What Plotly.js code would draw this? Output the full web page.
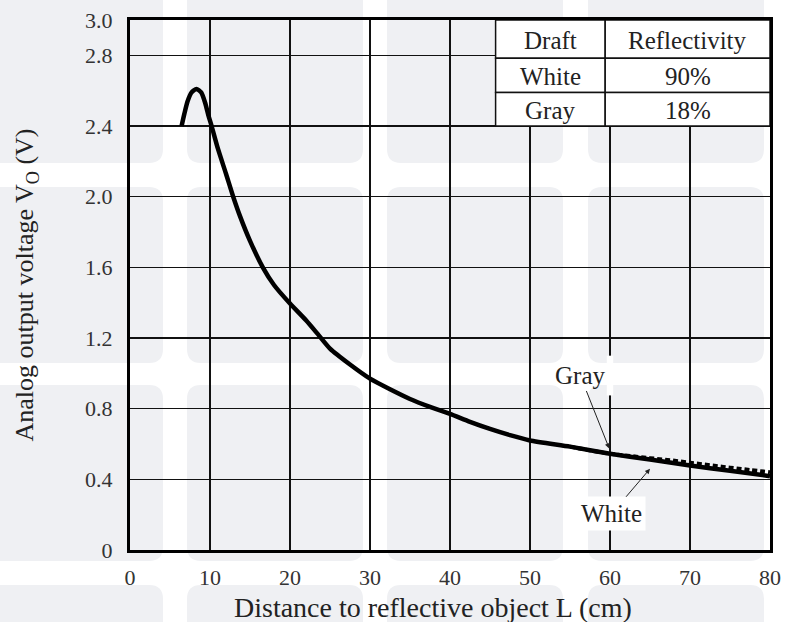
<!DOCTYPE html>
<html>
<head>
<meta charset="utf-8">
<script src="https://cdn.plot.ly/plotly-3.0.1.min.js"></script>
<style>html,body{margin:0;padding:0;background:#fff;}#chart{width:785px;height:622px;}</style>
</head>
<body>
<div id="chart"></div>
<script>
// ---- data ----
const grayX = [6.45, 6.8, 7.2, 7.7, 8.3, 8.9, 9.4, 9.8, 10.2, 11.0, 12.0, 12.9, 13.75, 15.0, 16.6, 18.0, 20.0, 22.0, 23.6, 25.0, 27.5, 30.0, 32.5, 35.0, 37.5, 40.0, 42.5, 45.0, 47.5, 50.0, 55.0, 60.0, 65.0, 70.0, 75.0, 80.0];
const grayV = [2.40, 2.47, 2.54, 2.59, 2.61, 2.59, 2.53, 2.46, 2.40, 2.27, 2.13, 2.00, 1.89, 1.75, 1.60, 1.50, 1.395, 1.30, 1.215, 1.14, 1.05, 0.97, 0.91, 0.855, 0.81, 0.77, 0.725, 0.685, 0.65, 0.62, 0.585, 0.545, 0.512, 0.478, 0.448, 0.418];
const whiteX = [55.0, 60.0, 62.5, 65.0, 67.5, 70.0, 72.5, 75.0, 77.5, 80.0];
const whiteV = [0.585, 0.545, 0.532, 0.520, 0.508, 0.494, 0.480, 0.466, 0.453, 0.440];

const xTicks = [0, 10, 20, 30, 40, 50, 60, 70, 80];
const yTicks = [0, 0.4, 0.8, 1.2, 1.6, 2.0, 2.4, 2.8, 3.0];
const yTickText = ["0", "0.4", "0.8", "1.2", "1.6", "2.0", "2.4", "2.8", "3.0"];

const tableHeader = ["Draft", "Reflectivity"];
const tableDraft = ["White", "Gray"];
const tableReflectivity = ["90%", "18%"];

const xTitle = "Distance to reflective object L (cm)";
const yTitle = "Analog output voltage V<sub>O</sub> (V)";
const serif = "'Liberation Serif', 'Times New Roman', 'DejaVu Serif', serif";

// ---- layout helpers (positions, not data) ----
const W = 785, H = 622, L = 130, R = 15, T = 20, B = 72;
const pw = W - L - R, ph = H - T - B;
const shapes = [];

// watermark-like background tiles (paper coordinates)
const tileCols = [-13, 187, 387, 588];
const tileRows = [-13, 187, 385, 585];
const tileSize = 176, rad = 14;
function px2paperX(p) { return (p - L) / pw; }
function px2paperY(p) { return (H - B - p) / ph; }
tileCols.forEach(cx => tileRows.forEach(cy => {
  const x0 = cx, y0 = cy, x1 = cx + tileSize, y1 = cy + tileSize;
  const pts = [
    ['M', x0 + rad, y0], ['L', x1 - rad, y0], ['Q', x1, y0, x1, y0 + rad],
    ['L', x1, y1 - rad], ['Q', x1, y1, x1 - rad, y1], ['L', x0 + rad, y1],
    ['Q', x0, y1, x0, y1 - rad], ['L', x0, y0 + rad], ['Q', x0, y0, x0 + rad, y0]
  ];
  let d = '';
  pts.forEach(p => {
    d += p[0];
    for (let i = 1; i < p.length; i += 2) {
      d += ' ' + px2paperX(p[i]).toFixed(5) + ',' + px2paperY(p[i + 1]).toFixed(5) + ' ';
    }
  });
  d += 'Z';
  shapes.push({type: 'path', xref: 'paper', yref: 'paper', path: d, fillcolor: '#eff0f3', line: {width: 0}, layer: 'below'});
}));

// table (legend box) in the upper right
const tX = [45.7, 59.4, 80];
const tY = [3.0, 2.783, 2.59, 2.4];
for (let c = 0; c < 2; c++) {
  for (let r = 0; r < 3; r++) {
    shapes.push({type: 'rect', xref: 'x', yref: 'y', x0: tX[c], x1: tX[c + 1], y0: tY[r + 1], y1: tY[r],
      fillcolor: '#ffffff', line: {color: '#111', width: 1.5}, layer: 'above'});
  }
}
// gap in the 60 cm grid line behind the "Gray" label
shapes.push({type: 'rect', xref: 'x', yref: 'y', x0: 59.6, x1: 60.4, y0: 0.875, y1: 1.10,
  fillcolor: '#ffffff', line: {width: 0}, layer: 'above'});

const annotations = [];
const cellText = [[tableHeader[0], tableHeader[1]], [tableDraft[0], tableReflectivity[0]], [tableDraft[1], tableReflectivity[1]]];
cellText.forEach((row, r) => row.forEach((txt, c) => {
  annotations.push({xref: 'x', yref: 'y', x: (tX[c] + tX[c + 1]) / 2, y: (tY[r] + tY[r + 1]) / 2,
    text: txt, showarrow: false, font: {family: serif, size: 25, color: '#222'}, yshift: -1});
}));

// curve labels with arrows (text sits at the arrow tail)
annotations.push({xref: 'x', yref: 'y', x: 59.9, y: 0.575, ax: 56.3, ay: 0.985, axref: 'x', ayref: 'y',
  showarrow: true, arrowhead: 2, arrowsize: 1, arrowwidth: 1, arrowcolor: '#222', standoff: 0,
  text: 'Gray', font: {family: serif, size: 25, color: '#222'}});
annotations.push({xref: 'x', yref: 'y', x: 65.0, y: 0.46, ax: 60.2, ay: 0.205, axref: 'x', ayref: 'y',
  showarrow: true, arrowhead: 2, arrowsize: 1, arrowwidth: 1, arrowcolor: '#222', standoff: 0,
  text: 'White', bgcolor: '#ffffff', borderpad: 3, font: {family: serif, size: 25, color: '#222'}});

// x axis title (placed slightly left of centre, as in the reference)
annotations.push({xref: 'paper', yref: 'paper', x: px2paperX(433), y: px2paperY(607), xanchor: 'center', yanchor: 'middle',
  text: xTitle, showarrow: false, font: {family: serif, size: 28, color: '#222'}});

const traces = [
  {x: whiteX, y: whiteV, mode: 'lines', name: 'White', line: {color: '#000', width: 4, dash: '5px,3px', shape: 'spline'}, hoverinfo: 'skip'},
  {x: grayX, y: grayV, mode: 'lines', name: 'Gray', line: {color: '#000', width: 4.5, shape: 'spline', smoothing: 0.6}, hoverinfo: 'skip'}
];

const layout = {
  width: W, height: H,
  margin: {l: L, r: R, t: T, b: B},
  paper_bgcolor: '#ffffff',
  plot_bgcolor: 'rgba(0,0,0,0)',
  showlegend: false,
  font: {family: serif, color: '#333'},
  xaxis: {
    range: [0, 80], tickvals: xTicks, ticktext: xTicks.map(String),
    showgrid: true, gridcolor: '#111', gridwidth: 1.5, zeroline: false,
    showline: true, linecolor: '#000', linewidth: 3, mirror: true,
    ticks: '', ticklabelstandoff: 6,
    tickfont: {family: serif, size: 22, color: '#333'},
    automargin: false,
    fixedrange: true
  },
  yaxis: {
    range: [0, 3.0], tickvals: yTicks, ticktext: yTickText,
    showgrid: true, gridcolor: '#111', gridwidth: 1.5, zeroline: false,
    showline: true, linecolor: '#000', linewidth: 3, mirror: true,
    ticks: '', ticklabelstandoff: 10,
    tickfont: {family: serif, size: 22, color: '#333'},
    title: {text: yTitle, font: {family: serif, size: 26, color: '#222'}, standoff: 44},
    automargin: false,
    fixedrange: true
  },
  shapes: shapes,
  annotations: annotations
};

Plotly.newPlot('chart', traces, layout, {staticPlot: true, displayModeBar: false});
</script>
</body>
</html>
